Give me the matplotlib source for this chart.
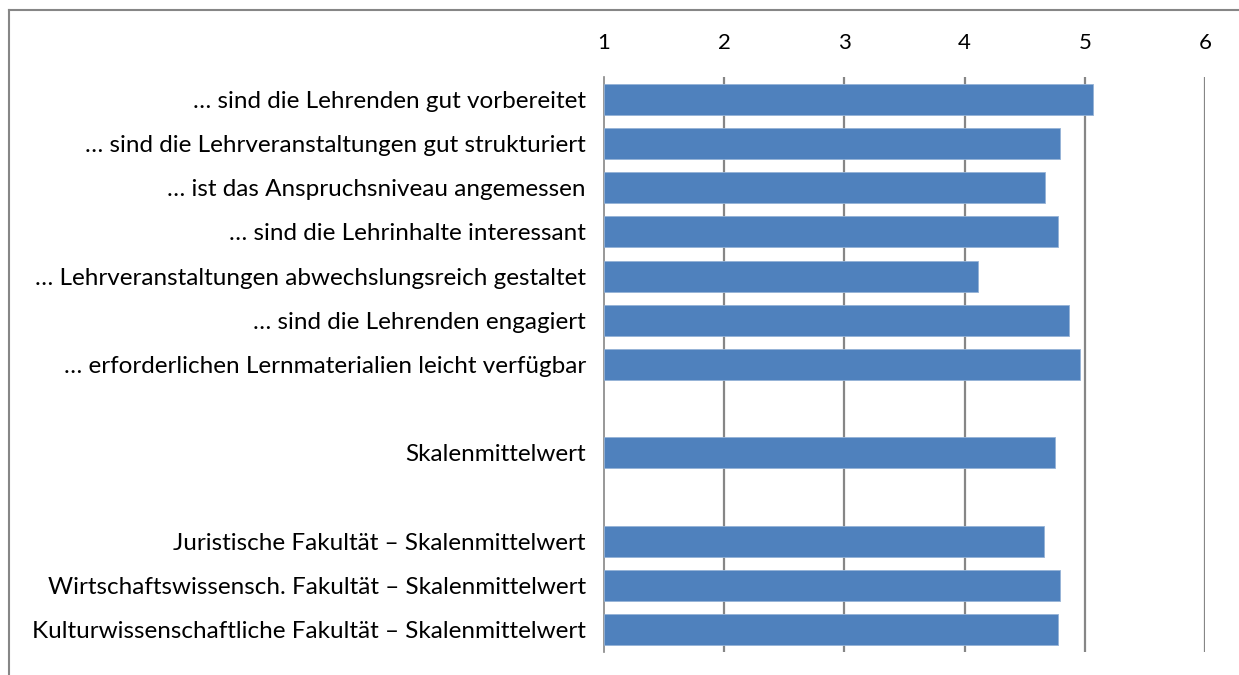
import matplotlib
matplotlib.use("Agg")
import matplotlib.pyplot as plt
from matplotlib.lines import Line2D

# ------------------- Data ------------------- #

labels = [
    "… sind die Lehrenden gut vorbereitet",
    "… sind die Lehrveranstaltungen gut strukturiert",
    "… ist das Anspruchsniveau angemessen",
    "… sind die Lehrinhalte interessant",
    "… Lehrveranstaltungen abwechslungsreich gestaltet",
    "… sind die Lehrenden engagiert",
    "… erforderlichen Lernmaterialien leicht verfügbar",
    "",
    "Skalenmittelwert",
    "",
    "Juristische Fakultät – Skalenmittelwert",
    "Wirtschaftswissensch. Fakultät – Skalenmittelwert",
    "Kulturwissenschaftliche Fakultät – Skalenmittelwert",
]
values = [5.07, 4.79, 4.67, 4.78, 4.11, 4.87, 4.96, None, 4.75, None, 4.66, 4.79, 4.78]
x_ticks = [1, 2, 3, 4, 5, 6]

# ------------------- Plot ------------------- #

plt.rcParams['font.family'] = ['Lato', 'DejaVu Sans']

fig = plt.figure(figsize=(12.39, 6.75), dpi=100)
ax = fig.add_axes([604 / 1239, 1 - 652 / 675, (1205 - 604) / 1239, (652 - 77) / 675])

grid_col = '#868686'
rows = [i for i, v in enumerate(values) if v is not None]
widths = [values[i] - 1 for i in rows]
ax.barh(rows, widths, left=1, height=0.7, color='#4F81BD',
        edgecolor='#95B3D7', linewidth=0.6, zorder=3)

ax.set_xlim(1, 6)
ax.set_ylim(len(labels) - 0.5, -0.5)
ax.set_xticks(x_ticks)
ax.xaxis.tick_top()
ax.tick_params(axis='x', length=0, pad=17, labelsize=16, colors='black')
ax.set_yticks(range(len(labels)))
ax.set_yticklabels(labels)
ax.tick_params(axis='y', length=0, pad=13, labelsize=17.5)

for x in x_ticks[1:]:
    ax.axvline(x, color=grid_col, linewidth=1.6, zorder=1)
for s in ['top', 'right', 'bottom']:
    ax.spines[s].set_visible(False)
ax.spines['left'].set_color(grid_col)
ax.spines['left'].set_linewidth(1.2)

# outer chart frame (top and left edges visible)
fig.add_artist(Line2D([8.5 / 1239, 1], [1 - 9.5 / 675] * 2, color='#868686', linewidth=1.5))
fig.add_artist(Line2D([8.5 / 1239] * 2, [0, 1 - 9.5 / 675], color='#868686', linewidth=1.5))

fig.savefig('out.png', dpi=100)
plt.close(fig)
